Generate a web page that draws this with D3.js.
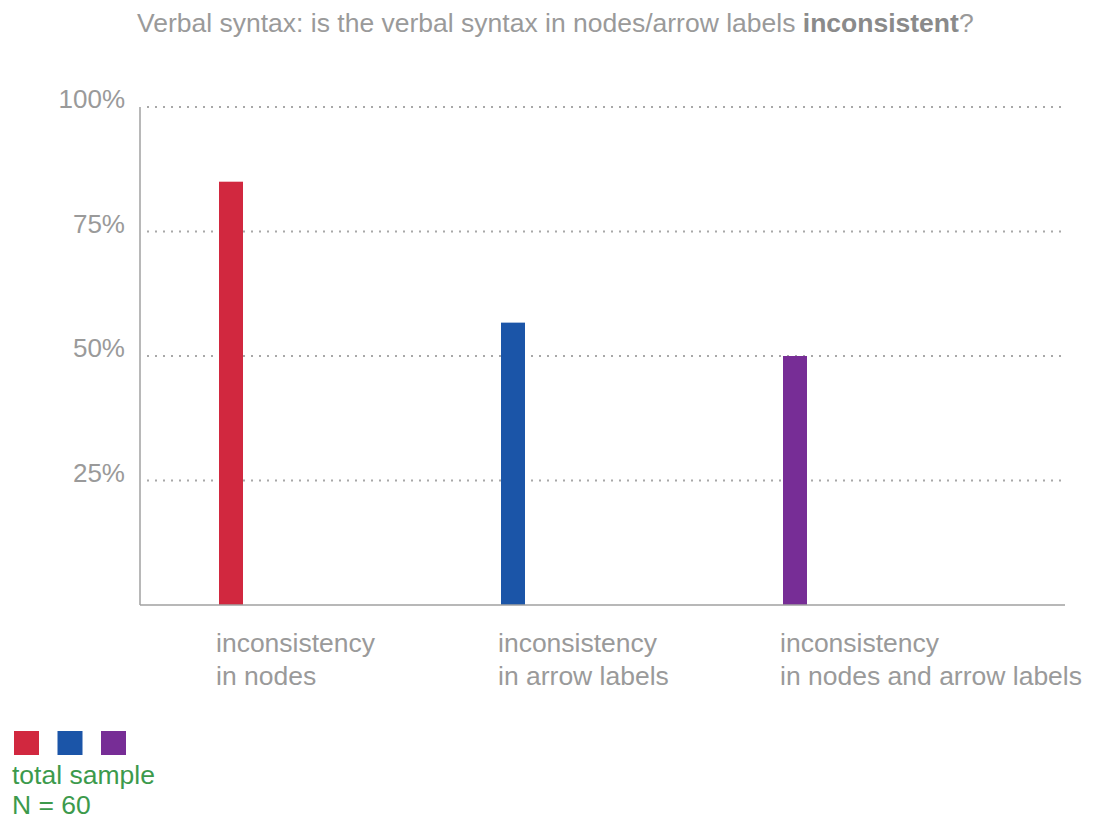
<!DOCTYPE html>
<html>
<head>
<meta charset="utf-8">
<script src="https://cdn.jsdelivr.net/npm/d3@7"></script>
<style>
  html, body { margin: 0; padding: 0; background: #fff; }
  svg { display: block; font-family: "Liberation Sans", Arial, Helvetica, sans-serif; }
</style>
</head>
<body>
<svg id="chart" width="1098" height="823"></svg>
<script>
// Share of the total sample (N = 60) showing each kind of inconsistency
const categories = ["nodes", "arrow", "both"];
const categoryLines = [
  ["inconsistency", "in nodes"],
  ["inconsistency", "in arrow labels"],
  ["inconsistency", "in nodes and arrow labels"]
];
const values = [0.85, 0.567, 0.50];
const barColors = ["#d1283f", "#1b55a8", "#772d96"];
const tickValues = [0.25, 0.5, 0.75, 1.0];
const tickLabels = ["25%", "50%", "75%", "100%"];
const legendLines = ["total sample", "N = 60"];

const svg = d3.select("#chart");

const plot = { left: 140, right: 1066, top: 107, bottom: 605 };

const y = d3.scaleLinear().domain([0, 1]).range([plot.bottom, plot.top]);
const x = d3.scalePoint().domain(categories).range([231, 795]);
const barWidth = 24;

// Title with the key word in bold
const title = svg.append("text")
  .attr("x", 137).attr("y", 32)
  .attr("font-size", 26.5)
  .attr("fill", "#9a9a9a");
title.append("tspan").text("Verbal syntax: is the verbal syntax in nodes/arrow labels ");
title.append("tspan").attr("font-weight", "bold").attr("fill", "#8a8a8a").text("inconsistent");
title.append("tspan").text("?");

// Dotted gridlines
svg.append("g")
  .selectAll("line")
  .data(tickValues)
  .join("line")
  .attr("x1", 147).attr("x2", plot.right)
  .attr("y1", d => y(d)).attr("y2", d => y(d))
  .attr("stroke", "#a8a8a8")
  .attr("stroke-width", 2)
  .attr("stroke-dasharray", "2 6");

// Y tick labels sitting on their gridlines
svg.append("g")
  .selectAll("text")
  .data(tickValues)
  .join("text")
  .attr("x", 125)
  .attr("y", d => y(d) + 1)
  .attr("text-anchor", "end")
  .attr("font-size", 26)
  .attr("fill", "#9a9a9a")
  .text((d, i) => tickLabels[i]);

// Bars
svg.append("g")
  .selectAll("rect")
  .data(values)
  .join("rect")
  .attr("x", (d, i) => x(categories[i]) - barWidth / 2)
  .attr("y", d => y(d))
  .attr("width", barWidth)
  .attr("height", d => y(0) - y(d))
  .attr("fill", (d, i) => barColors[i]);

// Axis lines
svg.append("line")
  .attr("x1", plot.left).attr("x2", plot.left)
  .attr("y1", plot.top).attr("y2", plot.bottom)
  .attr("stroke", "#a0a0a0").attr("stroke-width", 1.5);
svg.append("line")
  .attr("x1", plot.left).attr("x2", plot.right - 1)
  .attr("y1", plot.bottom).attr("y2", plot.bottom)
  .attr("stroke", "#a0a0a0").attr("stroke-width", 1.5);

// Category labels below the baseline
const catLabels = svg.append("g")
  .selectAll("text")
  .data(categories)
  .join("text")
  .attr("x", d => x(d) - 15)
  .attr("y", 652)
  .attr("font-size", 26.5)
  .attr("fill", "#9a9a9a");
catLabels.selectAll("tspan")
  .data((d, i) => categoryLines[i])
  .join("tspan")
  .attr("x", function() { return d3.select(this.parentNode).attr("x"); })
  .attr("dy", (d, j) => j === 0 ? 0 : 33)
  .text(d => d);

// Legend swatches and sample note
svg.append("g")
  .selectAll("rect")
  .data(barColors)
  .join("rect")
  .attr("x", (d, i) => 14 + i * 43.5)
  .attr("y", 731)
  .attr("width", 25)
  .attr("height", 24)
  .attr("fill", d => d);

svg.append("g")
  .selectAll("text")
  .data(legendLines)
  .join("text")
  .attr("x", 12)
  .attr("y", (d, i) => 784 + i * 30)
  .attr("font-size", 26.5)
  .attr("fill", "#3c9a4c")
  .text(d => d);
</script>
</body>
</html>
